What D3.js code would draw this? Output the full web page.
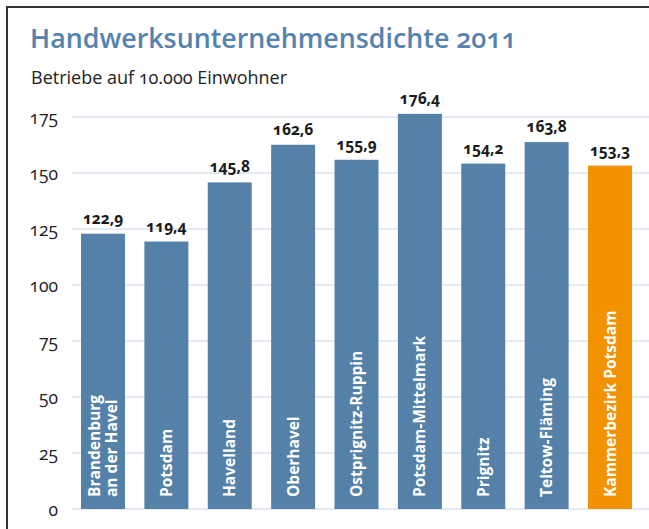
<!DOCTYPE html>
<html>
<head>
<meta charset="utf-8">
<script src="https://cdnjs.cloudflare.com/ajax/libs/d3/7.8.5/d3.min.js"></script>
<style>
  body { margin: 0; background: #fff; }
  svg text { font-family: "Open Sans", "Lato", sans-serif; }
</style>
</head>
<body>
<div id="chart"></div>
<script>
// data
const regions = ["Brandenburg\nan der Havel", "Potsdam", "Havelland", "Oberhavel", "Ostprignitz-Ruppin",
  "Potsdam-Mittelmark", "Prignitz", "Teltow-Fläming", "Kammerbezirk Potsdam"];
const values = [122.9, 119.4, 145.8, 162.6, 155.9, 176.4, 154.2, 163.8, 153.3];
const yTicks = [0, 25, 50, 75, 100, 125, 150, 175];

const W = 649, H = 529;
const blue = "#5581a9", orange = "#f39200";

const svg = d3.select("#chart").append("svg")
  .attr("width", W).attr("height", H);

// frame
svg.append("path")
  .attr("d", "M7,530 V7 H650")
  .attr("fill", "none").attr("stroke", "#333").attr("stroke-width", 2);

// title
svg.append("text")
  .attr("x", 30).attr("y", 48)
  .attr("fill", "#5583ad")
  .style("font-size", "26.8px").style("font-weight", 600)
  .style("font-feature-settings", "'onum' 1")
  .text("Handwerksunternehmensdichte 2011");

svg.append("text")
  .attr("x", 31).attr("y", 84)
  .attr("fill", "#222")
  .style("font-size", "18px")
  .style("font-feature-settings", "'onum' 1")
  .text("Betriebe auf 10.000 Einwohner");

const y = d3.scaleLinear().domain([0, 175]).range([509, 117]);
const x = d3.scaleBand().domain(regions).range([71.3, 641.7])
  .paddingInner(0.306).paddingOuter(0.153);

// grid
svg.append("g").selectAll("line").data(yTicks).join("line")
  .attr("x1", 72).attr("x2", W)
  .attr("y1", d => y(d)).attr("y2", d => y(d))
  .attr("stroke", "#dbe3ee").attr("stroke-width", 1.5);

svg.append("g").selectAll("text").data(yTicks).join("text")
  .attr("x", 58).attr("y", d => y(d) + 6.5)
  .attr("text-anchor", "end")
  .attr("fill", "#222")
  .style("font-size", "17.5px")
  .style("font-feature-settings", "'onum' 1")
  .text(d => d);

// bars
const fmt = v => v.toFixed(1).replace(".", ",");
const bars = svg.append("g").selectAll("g").data(regions).join("g");

bars.append("rect")
  .attr("x", d => x(d)).attr("width", x.bandwidth())
  .attr("y", (d, i) => y(values[i]))
  .attr("height", (d, i) => y(0) - y(values[i]))
  .attr("fill", (d, i) => i === regions.length - 1 ? orange : blue);

bars.append("text")
  .attr("x", d => x(d) + x.bandwidth() / 2)
  .attr("y", (d, i) => y(values[i]) - 10)
  .attr("text-anchor", "middle")
  .attr("fill", "#1a1a1a")
  .style("font-size", "15.5px").style("font-weight", 700)
  .style("font-feature-settings", "'onum' 1")
  .text((d, i) => fmt(values[i]));

bars.each(function(d) {
  const lines = d.split("\n");
  const cx = x(d) + x.bandwidth() / 2;
  const t = d3.select(this).append("text")
    .attr("transform", `translate(${cx},497) rotate(-90)`)
    .attr("fill", "#fff")
    .style("font-size", "15.5px").style("font-weight", 700);
  const lh = 17;
  lines.forEach((l, k) => {
    t.append("tspan")
      .attr("x", 0)
      .attr("y", 5.5 + (k - (lines.length - 1) / 2) * lh)
      .text(l);
  });
});
</script>
</body>
</html>
